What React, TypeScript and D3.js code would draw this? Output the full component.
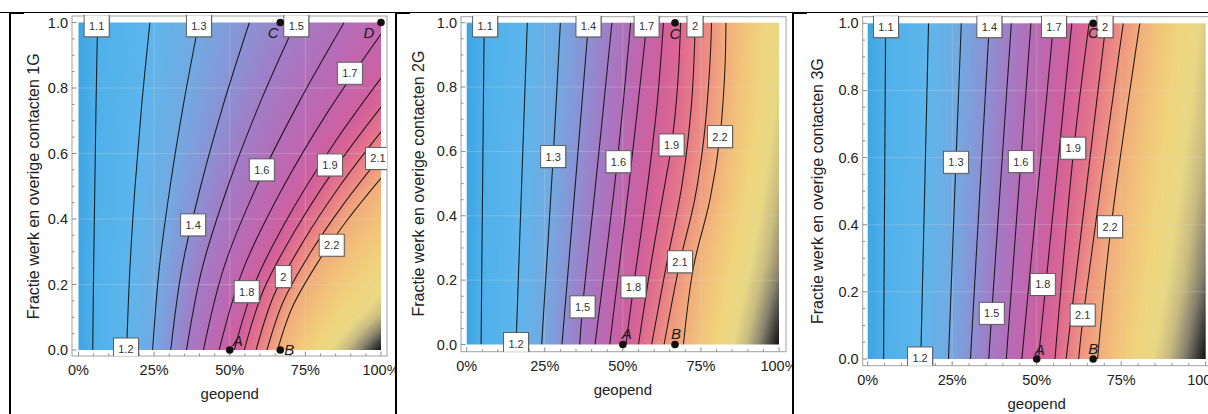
import React, { useMemo } from "react";
import * as d3 from "d3";

type Pt = [number, number];
type Label = [string, number, number];
type Mark = [string, number, number];

// contour levels, and how they are printed on the plot
const LEVELS = [1.1, 1.2, 1.3, 1.4, 1.5, 1.6, 1.7, 1.8, 1.9, 2.0, 2.1, 2.2];

const X_TICKS = [0, 0.25, 0.5, 0.75, 1];
const X_TICK_LABELS = ["0%", "25%", "50%", "75%", "100%"];
const Y_TICKS = [0, 0.2, 0.4, 0.6, 0.8, 1];
const Y_TICK_LABELS = ["0.0", "0.2", "0.4", "0.6", "0.8", "1.0"];

// contour lines as [geopend, fractie] points, one list per level
const LINES_1G: Pt[][] = [
  [[0.047, 0], [0.05, 0.25], [0.054, 0.5], [0.058, 0.75], [0.063, 1]],
  [[0.159, 0], [0.17, 0.25], [0.187, 0.5], [0.209, 0.75], [0.236, 1]],
  [[0.245, 0], [0.267, 0.25], [0.303, 0.5], [0.347, 0.75], [0.398, 1]],
  [[0.305, 0], [0.342, 0.25], [0.404, 0.5], [0.479, 0.75], [0.565, 1]],
  [[0.357, 0], [0.409, 0.25], [0.494, 0.5], [0.598, 0.75], [0.718, 1]],
  [[0.413, 0], [0.48, 0.25], [0.589, 0.5], [0.725, 0.75], [0.878, 1]],
  [[0.465, 0], [0.542, 0.241], [0.668, 0.483], [0.822, 0.724], [1, 0.965]],
  [[0.515, 0], [0.585, 0.208], [0.699, 0.415], [0.839, 0.623], [1, 0.83]],
  [[0.548, 0], [0.613, 0.186], [0.72, 0.371], [0.85, 0.557], [1, 0.742]],
  [[0.587, 0], [0.646, 0.167], [0.744, 0.333], [0.863, 0.5], [1, 0.666]],
  [[0.623, 0], [0.677, 0.148], [0.766, 0.296], [0.875, 0.444], [1, 0.592]],
  [[0.658, 0], [0.707, 0.131], [0.788, 0.263], [0.886, 0.394], [1, 0.525]],
];

const LINES_2G: Pt[][] = [
  [[0.046, 0], [0.051, 0.5], [0.056, 1]],
  [[0.158, 0], [0.176, 0.5], [0.194, 1]],
  [[0.24, 0], [0.277, 0.584], [0.3, 1]],
  [[0.305, 0], [0.348, 0.5], [0.39, 1]],
  [[0.362, 0], [0.371, 0.117], [0.413, 0.5], [0.465, 1]],
  [[0.411, 0], [0.482, 0.568], [0.525, 1]],
  [[0.458, 0], [0.52, 0.5], [0.577, 1]],
  [[0.51, 0], [0.534, 0.179], [0.58, 0.5], [0.61, 0.75], [0.63, 1]],
  [[0.55, 0], [0.59, 0.25], [0.635, 0.5], [0.656, 0.62], [0.675, 0.8], [0.685, 1]],
  [[0.592, 0], [0.64, 0.25], [0.69, 0.5], [0.72, 0.75], [0.732, 1]],
  [[0.632, 0], [0.683, 0.257], [0.73, 0.45], [0.76, 0.646], [0.778, 0.86], [0.784, 1]],
  [[0.694, 0], [0.726, 0.24], [0.779, 0.45], [0.811, 0.646], [0.827, 0.86], [0.83, 1]],
];

const LINES_3G: Pt[][] = [
  [[0.047, 0], [0.053, 1]],
  [[0.157, 0], [0.18, 1]],
  [[0.239, 0], [0.261, 0.586], [0.277, 1]],
  [[0.304, 0], [0.36, 1]],
  [[0.358, 0], [0.367, 0.136], [0.425, 1]],
  [[0.41, 0], [0.453, 0.588], [0.483, 1]],
  [[0.456, 0], [0.55, 1]],
  [[0.505, 0], [0.527, 0.222], [0.604, 1]],
  [[0.554, 0], [0.61, 0.628], [0.655, 1]],
  [[0.587, 0], [0.705, 1]],
  [[0.624, 0], [0.638, 0.131], [0.756, 1]],
  [[0.68, 0], [0.72, 0.394], [0.805, 1]],
];

// value along the right edge (geopend = 100%), as [fractie, value]
const RIGHT_1G: Pt[] = [
  [0, 2.78], [0.12, 2.56], [0.25, 2.42], [0.4, 2.3], [0.525, 2.2], [0.592, 2.1],
  [0.666, 2.0], [0.742, 1.9], [0.83, 1.8], [0.965, 1.7], [1, 1.68],
];
const RIGHT_2G: Pt[] = [[0, 2.78], [0.25, 2.65], [0.5, 2.58], [0.75, 2.52], [1, 2.48]];
const RIGHT_3G: Pt[] = [[0, 2.78], [0.25, 2.68], [0.5, 2.62], [0.75, 2.57], [1, 2.53]];
const LEFT_VALUE = 1.0;

// contour labels: text, geopend, fractie
const LABELS_1G: Label[] = [
  ["1.1", 0.06, 0.99], ["1.3", 0.398, 0.99], ["1.5", 0.72, 0.99], ["1.2", 0.157, 0.003],
  ["1.4", 0.379, 0.382], ["1.6", 0.606, 0.55], ["1.7", 0.897, 0.845], ["1.8", 0.556, 0.178],
  ["1.9", 0.831, 0.565], ["2", 0.677, 0.224], ["2.1", 0.99, 0.585], ["2.2", 0.837, 0.32],
];
const LABELS_2G: Label[] = [
  ["1.1", 0.059, 0.99], ["1.4", 0.39, 0.99], ["1.7", 0.576, 0.99], ["2", 0.731, 0.99],
  ["1.2", 0.158, 0.003], ["1.3", 0.277, 0.584], ["1.6", 0.486, 0.568], ["1.9", 0.656, 0.62],
  ["2.2", 0.811, 0.646], ["1.5", 0.371, 0.117], ["1.8", 0.534, 0.179], ["2.1", 0.683, 0.257],
];
const LABELS_3G: Label[] = [
  ["1.1", 0.054, 0.99], ["1.4", 0.36, 0.99], ["1.7", 0.551, 0.99], ["2", 0.702, 0.99],
  ["1.2", 0.155, 0.003], ["1.3", 0.261, 0.586], ["1.6", 0.453, 0.588], ["1.9", 0.608, 0.628],
  ["2.2", 0.717, 0.394], ["1.8", 0.518, 0.222], ["1.5", 0.367, 0.136], ["2.1", 0.636, 0.131],
];

const MARKS_1G: Mark[] = [["A", 0.5, 0], ["B", 0.667, 0], ["C", 0.667, 1], ["D", 1, 1]];
const MARKS_2G: Mark[] = [["A", 0.5, 0], ["B", 0.667, 0], ["C", 0.667, 1]];
const MARKS_3G: Mark[] = [["A", 0.5, 0], ["B", 0.667, 0], ["C", 0.667, 1]];

const COLOR_VALUES = [1.0, 1.1, 1.2, 1.3, 1.4, 1.5, 1.6, 1.7, 1.8, 1.9, 2.0, 2.1, 2.2, 2.3, 2.4, 2.5, 2.58, 2.66, 2.72, 2.78];
const COLOR_HEX = [
  "#3da4e4", "#4fb0ea", "#5db6ec", "#72aae2", "#8b92d4", "#a27cc6", "#b46eb9", "#c465ac",
  "#d0609e", "#dc6892", "#e77a88", "#ee9380", "#f1ad7c", "#f2c47a", "#f0d47e", "#e8d884",
  "#c8bc80", "#8a8470", "#4a4842", "#111111",
];

const FONT = "'Liberation Sans', Arial, Helvetica, sans-serif";

const colorScale = d3
  .scaleLinear<string>()
  .domain(COLOR_VALUES)
  .range(COLOR_HEX)
  .interpolate(d3.interpolateRgb)
  .clamp(true);

const LUT = d3.range(512).map((i) => d3.rgb(colorScale(1 + (1.8 * i) / 511)));

// f position of a contour line at height v (undefined when the line doesn't reach it)
function lineAt(pts: Pt[], v: number) {
  for (let k = 0; k < pts.length - 1; k++) {
    const [f0, v0] = pts[k];
    const [f1, v1] = pts[k + 1];
    if ((v >= v0 && v <= v1) || (v >= v1 && v <= v0)) {
      const t = v1 === v0 ? 0 : (v - v0) / (v1 - v0);
      return f0 + t * (f1 - f0);
    }
  }
  return undefined;
}

function fieldImage(lines: Pt[][], right: Pt[], w: number, h: number) {
  const canvas = document.createElement("canvas");
  canvas.width = w;
  canvas.height = h;
  const ctx = canvas.getContext("2d");
  if (!ctx) return "";
  const img = ctx.createImageData(w, h);
  const rightVal = d3
    .scaleLinear()
    .domain(right.map((d) => d[0]))
    .range(right.map((d) => d[1]))
    .clamp(true);

  for (let j = 0; j < h; j++) {
    const v = 1 - (j + 0.5) / h;
    const anchors: Pt[] = [[0, LEFT_VALUE]];
    lines.forEach((pts, i) => {
      const f = lineAt(pts, v);
      if (f !== undefined && f > 0.001 && f < 0.999) anchors.push([f, LEVELS[i]]);
    });
    anchors.push([1, rightVal(v)]);
    anchors.sort((a, b) => a[0] - b[0]);

    let k = 0;
    for (let i = 0; i < w; i++) {
      const f = (i + 0.5) / w;
      while (k < anchors.length - 2 && f > anchors[k + 1][0]) k++;
      const [fa, va] = anchors[k];
      const [fb, vb] = anchors[k + 1];
      const val = fb === fa ? va : va + ((f - fa) / (fb - fa)) * (vb - va);
      const idx = Math.max(0, Math.min(511, Math.round(((val - 1) / 1.8) * 511)));
      const c = LUT[idx];
      const p = (j * w + i) * 4;
      img.data[p] = c.r;
      img.data[p + 1] = c.g;
      img.data[p + 2] = c.b;
      img.data[p + 3] = 255;
    }
  }
  ctx.putImageData(img, 0, 0);
  return canvas.toDataURL();
}

type PanelCfg = {
  id: string;
  title: string;
  lines: Pt[][];
  right: Pt[];
  labels: Label[];
  marks: Mark[];
  markOffset: Record<string, Pt>;
  x0: number;
  x1: number;
  yTop: number;
  yBot: number;
  frame: [number, number, number, number];
  ylabelX: number;
  cell: [number, number];
};

const PANELS: PanelCfg[] = [
  {
    id: "p1",
    title: "Fractie werk en overige contacten 1G",
    lines: LINES_1G,
    right: RIGHT_1G,
    labels: LABELS_1G,
    marks: MARKS_1G,
    markOffset: { A: [8, -10], B: [9, -1], C: [-7, 10], D: [-12, 10] },
    x0: 78.5,
    x1: 381,
    yTop: 22.5,
    yBot: 350,
    frame: [72, 16, 387, 356],
    ylabelX: 33,
    cell: [10, 396],
  },
  {
    id: "p2",
    title: "Fractie werk en overige contacten 2G",
    lines: LINES_2G,
    right: RIGHT_2G,
    labels: LABELS_2G,
    marks: MARKS_2G,
    markOffset: { A: [4, -11], B: [1, -11], C: [0, 11] },
    x0: 466.7,
    x1: 779,
    yTop: 22.7,
    yBot: 344.5,
    frame: [461, 16.7, 786, 351.7],
    ylabelX: 418,
    cell: [396, 793],
  },
  {
    id: "p3",
    title: "Fractie werk en overige contacten 3G",
    lines: LINES_3G,
    right: RIGHT_3G,
    labels: LABELS_3G,
    marks: MARKS_3G,
    markOffset: { A: [3, -10], B: [0, -11], C: [0, 9] },
    x0: 867.7,
    x1: 1205.7,
    yTop: 23.3,
    yBot: 359,
    frame: [862.7, 16.7, 1214, 365.7],
    ylabelX: 817,
    cell: [793, 1208],
  },
];

const MINOR = d3.range(0, 1.0001, 0.05);

function Panel({ cfg }: { cfg: PanelCfg }) {
  const x = d3.scaleLinear().domain([0, 1]).range([cfg.x0, cfg.x1]);
  const y = d3.scaleLinear().domain([0, 1]).range([cfg.yBot, cfg.yTop]);
  const w = Math.round(cfg.x1 - cfg.x0);
  const h = Math.round(cfg.yBot - cfg.yTop);
  const href = useMemo(() => fieldImage(cfg.lines, cfg.right, w, h), [cfg, w, h]);
  const line = d3
    .line<Pt>()
    .x((d) => x(d[0]))
    .y((d) => y(d[1]))
    .curve(d3.curveCatmullRom.alpha(0.5));
  const [fl, ft, fr, fb] = cfg.frame;

  return (
    <g clipPath={`url(#cell-${cfg.id})`}>
      <defs>
        <clipPath id={`cell-${cfg.id}`}>
          <rect x={cfg.cell[0]} y={0} width={cfg.cell[1] - cfg.cell[0]} height={414} />
        </clipPath>
        <clipPath id={`plot-${cfg.id}`}>
          <rect x={cfg.x0} y={cfg.yTop} width={cfg.x1 - cfg.x0} height={cfg.yBot - cfg.yTop} />
        </clipPath>
        <clipPath id={`frame-${cfg.id}`}>
          <rect x={fl} y={ft - 1} width={fr - fl} height={fb - ft + 1} />
        </clipPath>
      </defs>

      <image href={href} x={cfg.x0} y={cfg.yTop} width={cfg.x1 - cfg.x0} height={cfg.yBot - cfg.yTop} preserveAspectRatio="none" />

      {/* faint grid */}
      <g stroke="#d8d8d8" strokeOpacity={0.3} strokeWidth={1}>
        {X_TICKS.slice(1, -1).map((t) => (
          <line key={`gx${t}`} x1={x(t)} x2={x(t)} y1={cfg.yTop} y2={cfg.yBot} />
        ))}
        {Y_TICKS.slice(1, -1).map((t) => (
          <line key={`gy${t}`} x1={cfg.x0} x2={cfg.x1} y1={y(t)} y2={y(t)} />
        ))}
      </g>

      {/* contour lines */}
      <g clipPath={`url(#plot-${cfg.id})`} fill="none" stroke="#111" strokeWidth={1.1} strokeOpacity={0.9}>
        {cfg.lines.map((pts, i) => (
          <path key={i} d={line(pts) || ""} />
        ))}
      </g>

      {/* frame and ticks */}
      <rect x={fl} y={ft} width={fr - fl} height={fb - ft} fill="none" stroke="#a0a0a0" strokeWidth={1} />
      <g stroke="#8c8c8c" strokeWidth={1}>
        {MINOR.map((t) => {
          const major = Math.abs(t / 0.25 - Math.round(t / 0.25)) < 1e-6;
          return <line key={`tx${t}`} x1={x(t)} x2={x(t)} y1={fb} y2={fb - (major ? 4.5 : 2.5)} />;
        })}
        {MINOR.map((t) => {
          const major = Math.abs(t / 0.2 - Math.round(t / 0.2)) < 1e-6;
          return <line key={`ty${t}`} x1={fl} x2={fl + (major ? 4.5 : 2.5)} y1={y(t)} y2={y(t)} />;
        })}
      </g>

      <g fontFamily={FONT} fontSize={14.5} fill="#222">
        {X_TICKS.map((t, i) => (
          <text key={`lx${t}`} x={x(t)} y={fb + 19} textAnchor="middle">
            {X_TICK_LABELS[i]}
          </text>
        ))}
        {Y_TICKS.map((t, i) => (
          <text key={`ly${t}`} x={fl - 4} y={y(t) + 5} textAnchor="end">
            {Y_TICK_LABELS[i]}
          </text>
        ))}
        <text x={(cfg.x0 + cfg.x1) / 2} y={fb + 43} textAnchor="middle" fontSize={15}>
          geopend
        </text>
        <text
          transform={`translate(${cfg.ylabelX},${(cfg.yTop + cfg.yBot) / 2}) rotate(-90)`}
          textAnchor="middle"
          dy="0.35em"
          fontSize={16}
        >
          {cfg.title}
        </text>
      </g>

      {/* contour labels */}
      <g clipPath={`url(#frame-${cfg.id})`} fontFamily={FONT} fontSize={11}>
        {cfg.labels.map(([txt, f, v]) => {
          const bw = txt.length > 1 ? 25 : 16;
          const bh = 22;
          const cx = x(f);
          const cy = y(v);
          return (
            <g key={txt}>
              <rect x={cx - bw / 2 + 1} y={cy - bh / 2 + 1} width={bw} height={bh} fill="#777" opacity={0.55} />
              <rect x={cx - bw / 2} y={cy - bh / 2} width={bw} height={bh} fill="#fff" stroke="#555" strokeWidth={0.9} />
              <text x={cx} y={cy + 4} textAnchor="middle" fill="#333">
                {txt}
              </text>
            </g>
          );
        })}
      </g>

      {/* named points */}
      <g fontFamily={FONT} fontSize={15} fontStyle="italic" fill="#1a1a1a">
        {cfg.marks.map(([name, f, v]) => {
          const [dx, dy] = cfg.markOffset[name] || [0, 0];
          return (
            <g key={name}>
              <circle cx={x(f)} cy={y(v)} r={3.8} fill="#111" />
              <text x={x(f) + dx} y={y(v) + dy} textAnchor="middle" dominantBaseline="central">
                {name}
              </text>
            </g>
          );
        })}
      </g>
    </g>
  );
}

export default function App() {
  return (
    <svg
      width={1208}
      height={414}
      style={{ position: "absolute", left: 0, top: 0, background: "#fff" }}
    >
      <rect x={0} y={0} width={1208} height={414} fill="#fff" />
      {PANELS.map((p) => (
        <Panel key={p.id} cfg={p} />
      ))}
      {/* table borders */}
      <g stroke="#000">
        <line x1={0} x2={1208} y1={12.5} y2={12.5} strokeWidth={1} />
        {[10, 396, 793].map((bx) => (
          <g key={bx}>
            <line x1={bx} x2={bx} y1={12} y2={414} strokeWidth={2} />
            <line x1={bx} x2={bx + 14} y1={13} y2={13} strokeWidth={2} />
          </g>
        ))}
      </g>
    </svg>
  );
}
